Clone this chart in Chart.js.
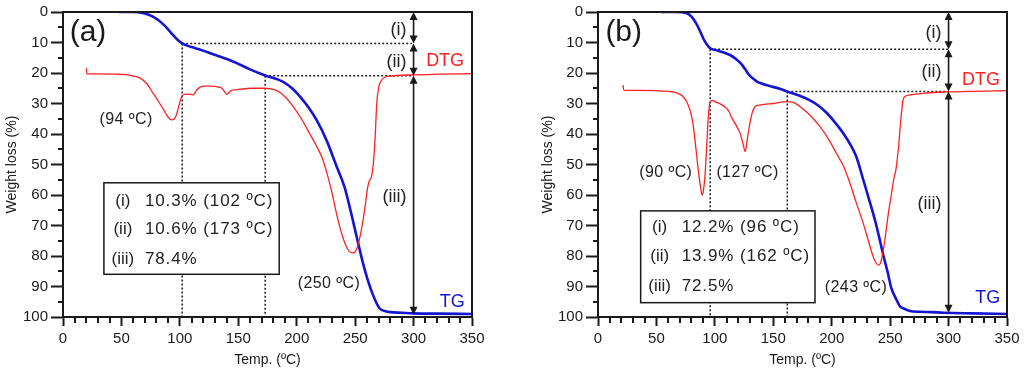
<!DOCTYPE html>
<html>
<head>
<meta charset="utf-8">
<script src="https://cdn.jsdelivr.net/npm/chart.js@4.4.1/dist/chart.umd.min.js"></script>
<style>
  html, body { margin: 0; padding: 0; background: #fff; }
  #wrap { position: relative; width: 1024px; height: 373px; overflow: hidden; }
  canvas { position: absolute; top: 0; }
  #chartA { left: 0; }
  #chartB { left: 512px; }
</style>
</head>
<body>
<div id="wrap">
  <canvas id="chartA" width="512" height="373"></canvas>
  <canvas id="chartB" width="512" height="373"></canvas>
</div>
<script>
// values: temperature (ºC) and weight loss (%)

// panel (a)
const tgTempA = [48, 60, 68, 77, 84, 89, 94, 98, 102, 110, 117, 126, 134, 146, 160, 173, 188, 196, 203, 210, 217, 226, 234, 241, 246, 251, 258, 265, 271, 276, 280, 290, 300, 320, 350];
const tgLossA = [0, 0, 0.3, 1.5, 3.4, 5.3, 7.5, 9.1, 10.3, 11.5, 12.3, 13.5, 14.6, 16.3, 18.8, 20.8, 22.8, 25, 27.8, 31.2, 35.4, 42.5, 50.5, 57.5, 65, 73.2, 84.2, 92.5, 97.2, 98.1, 98.4, 98.6, 98.8, 98.9, 99];
const dtgTempA = [20, 20.5, 30, 45, 54, 60, 66, 72, 77, 82, 86, 90, 93, 95, 97, 99, 101.5, 104, 106, 109, 111.5, 114, 117, 122, 128, 133, 136, 138, 140, 142, 144, 150, 163, 171, 183, 190, 197, 204, 211, 217, 222, 226, 230, 234, 238, 242, 245, 248, 251, 254, 256, 258.5, 260.5, 262, 264, 265.5, 267, 268.5, 270, 272.7, 276, 280, 300, 320, 350];
const dtgLossA = [18.4, 20.3, 20.3, 20.4, 20.5, 21, 21.7, 23.6, 26.6, 29.5, 32, 34.5, 35.4, 35.2, 33.8, 31, 27.8, 27, 26.9, 27, 27.2, 25.8, 24.7, 24.3, 24.3, 24.6, 25, 26, 27, 26.4, 25.8, 25.4, 25, 25, 25.8, 27.8, 31, 35, 39.8, 44, 48, 53, 59, 66, 72, 76.5, 78.5, 79, 78, 74, 70, 63.8, 58, 55.5, 54, 50, 42, 30, 25, 22.3, 21.3, 21, 20.6, 20.4, 20.2];
const stepTempA = [102, 173];
const stepLossA = [10.3, 10.6, 78.4];
const peakTempA = [94, 250];

// panel (b)
const tgTempB = [54, 66, 76, 80, 84, 87, 90, 93, 96, 101, 107, 113, 118, 122, 126, 129, 133, 136, 141, 147, 155, 162, 172, 181, 189, 196, 203, 210, 216, 221, 227, 232, 237, 241, 244, 248, 251, 255, 258, 262, 267, 275, 285, 296, 320, 350];
const tgLossB = [0, 0, 0.4, 1.5, 3.7, 6, 8.6, 10.6, 11.9, 12.5, 13.2, 14.1, 15.4, 16.8, 18.8, 20.5, 21.9, 22.8, 23.6, 24.3, 25.1, 26.1, 27.4, 28.9, 30.8, 33.2, 36.3, 39.8, 43.5, 47.4, 55, 61.5, 68.2, 74.5, 79.5, 85.5, 90.5, 94, 96.3, 97.3, 98, 98.3, 98.4, 98.6, 98.8, 99];
const dtgTempB = [21.5, 22, 35, 50, 62, 68, 73, 76, 78.6, 81, 83, 85, 86.5, 88, 89, 90, 91.5, 93, 94.5, 96, 98, 100, 105, 110, 112, 114, 118, 121.6, 124, 126, 128, 130, 132, 134.5, 138, 142, 150, 161.5, 168, 176, 183, 190, 197, 204, 210, 215, 221, 227, 231, 235.5, 238, 240, 242, 245, 248.5, 251, 253, 255, 257, 259, 261, 263, 267, 280, 300, 320, 350];
const dtgLossB = [24, 25.6, 25.7, 25.8, 26.1, 26.6, 27.8, 29.5, 32, 36, 42, 49, 54, 58, 60, 59, 54, 44, 34, 29.5, 29, 29.4, 30.2, 31.6, 32.5, 34.3, 37, 39.8, 43, 45.8, 41, 36.5, 33, 31, 30.5, 30.3, 30, 29.4, 29.8, 32, 34.5, 37.6, 41.5, 46.3, 50.5, 55.5, 62.5, 69.3, 74.5, 80.2, 82.3, 83, 82, 76, 66, 60, 55, 51.5, 45, 36, 29, 27.6, 27.2, 26.6, 26.2, 26, 25.8];
const stepTempB = [96, 162];
const stepLossB = [12.2, 13.9, 72.5];
const peakTempB = [90, 127, 243];

const stepNames = ['(i)', '(ii)', '(iii)'];
const xTicks = [0, 50, 100, 150, 200, 250, 300, 350];
const yTicks = [0, 10, 20, 30, 40, 50, 60, 70, 80, 90, 100];

const FONT = '"Liberation Sans", Arial, sans-serif';
const RED = '#ff2020';
const BLUE = '#1414d2';
const INK = '#1a1a1a';

function toXY(xs, ys) {
    return xs.map((x, i) => ({ x: x, y: ys[i] }));
}

// frame, minor ticks, guide lines, arrows, labels and the summary box
const tgaNotes = {
    id: 'tgaNotes',
    beforeDatasetsDraw(chart, args, o) {
        const ctx = chart.ctx, sx = chart.scales.x, sy = chart.scales.y;
        let cum = 0;
        ctx.save();
        ctx.strokeStyle = INK;
        ctx.lineWidth = 1.5;
        ctx.setLineDash([2, 2]);
        o.stepTemps.forEach((t, i) => {
            cum += o.losses[i];
            const x = sx.getPixelForValue(t), y = sy.getPixelForValue(cum);
            ctx.beginPath();
            ctx.moveTo(x, y);
            ctx.lineTo(x, chart.chartArea.bottom);
            ctx.moveTo(x, y);
            ctx.lineTo(sx.getPixelForValue(o.arrowAt), y);
            ctx.stroke();
        });
        ctx.restore();
    },
    afterDatasetsDraw(chart, args, o) {
        const ctx = chart.ctx, sx = chart.scales.x, sy = chart.scales.y;
        const ax = sx.getPixelForValue(o.arrowAt);
        ctx.save();

        // double arrows
        let top = 0;
        ctx.fillStyle = INK;
        ctx.strokeStyle = INK;
        ctx.setLineDash([]);
        o.losses.forEach((l, i) => {
            const y0 = sy.getPixelForValue(top), y1 = sy.getPixelForValue(top + l);
            ctx.lineWidth = 1.6;
            ctx.beginPath();
            ctx.moveTo(ax, y0 + 6);
            ctx.lineTo(ax, y1 - 6);
            ctx.stroke();
            ctx.beginPath();
            ctx.moveTo(ax, y0); ctx.lineTo(ax - 4, y0 + 8); ctx.lineTo(ax + 4, y0 + 8); ctx.closePath();
            ctx.moveTo(ax, y1); ctx.lineTo(ax - 4, y1 - 8); ctx.lineTo(ax + 4, y1 - 8); ctx.closePath();
            ctx.fill();
            ctx.font = '18px ' + FONT;
            ctx.textAlign = 'right';
            ctx.textBaseline = 'middle';
            ctx.fillStyle = '#222';
            ctx.fillText(stepNames[i], ax - 7, (y0 + y1) / 2 + 2);
            ctx.fillStyle = INK;
            top += l;
        });

        ctx.textAlign = 'center';
        ctx.textBaseline = 'middle';

        // panel letter
        ctx.font = '30px ' + FONT;
        ctx.fillStyle = INK;
        ctx.fillText(o.letter.text, sx.getPixelForValue(o.letter.x), sy.getPixelForValue(o.letter.y));

        // curve names
        ctx.font = '18px ' + FONT;
        ctx.fillStyle = RED;
        ctx.fillText('DTG', sx.getPixelForValue(o.dtgLabel[0]), sy.getPixelForValue(o.dtgLabel[1]));
        ctx.fillStyle = BLUE;
        ctx.fillText('TG', sx.getPixelForValue(o.tgLabel[0]), sy.getPixelForValue(o.tgLabel[1]));

        // DTG peak temperatures
        ctx.font = '16px ' + FONT;
        ctx.fillStyle = '#222';
        ctx.letterSpacing = '0.4px';
        o.peaks.forEach((t, i) => {
            const p = o.peakPos[i];
            ctx.fillText('(' + t + ' ºC)', sx.getPixelForValue(p[0]), sy.getPixelForValue(p[1]));
        });

        // summary box
        const b = o.box;
        const bx0 = sx.getPixelForValue(b.x0), bx1 = sx.getPixelForValue(b.x1);
        const by0 = sy.getPixelForValue(b.y0), by1 = sy.getPixelForValue(b.y1);
        ctx.fillStyle = '#fff';
        ctx.fillRect(bx0, by0, bx1 - bx0, by1 - by0);
        ctx.strokeStyle = INK;
        ctx.lineWidth = 1.5;
        ctx.strokeRect(bx0, by0, bx1 - bx0, by1 - by0);
        ctx.font = '17px ' + FONT;
        ctx.fillStyle = '#222';
        o.losses.forEach((l, i) => {
            const y = sy.getPixelForValue(b.rows[i]);
            ctx.letterSpacing = '0px';
            ctx.textAlign = 'center';
            ctx.fillText(stepNames[i], bx0 + 19, y);
            ctx.letterSpacing = '0.9px';
            ctx.textAlign = 'left';
            let s = l.toFixed(1) + '%';
            if (i < o.stepTemps.length) s += ' (' + o.stepTemps[i] + ' ºC)';
            ctx.fillText(s, bx0 + 41, y);
        });
        ctx.restore();
    },
    afterDraw(chart) {
        const ctx = chart.ctx, sx = chart.scales.x, sy = chart.scales.y;
        const a = chart.chartArea;
        ctx.save();
        ctx.strokeStyle = INK;
        ctx.lineWidth = 2;
        ctx.beginPath();
        ctx.moveTo(a.left, a.top);
        ctx.lineTo(a.right, a.top);
        ctx.lineTo(a.right, a.bottom);
        ctx.stroke();
        // minor ticks
        ctx.beginPath();
        for (let v = 5; v < 100; v += 10) {
            const y = Math.round(sy.getPixelForValue(v));
            ctx.moveTo(a.left, y);
            ctx.lineTo(a.left - 5, y);
        }
        for (let v = 10; v < 350; v += 10) {
            if (v % 50 === 0) continue;
            const x = Math.round(sx.getPixelForValue(v));
            ctx.moveTo(x, a.bottom);
            ctx.lineTo(x, a.bottom + 6);
        }
        ctx.stroke();
        ctx.restore();
    }
};

function makeChart(id, p) {
    return new Chart(document.getElementById(id), {
        type: 'line',
        data: {
            datasets: [{
                label: 'DTG',
                data: toXY(p.dtgT, p.dtgW),
                borderColor: RED,
                borderWidth: 1.3,
                pointRadius: 0,
                cubicInterpolationMode: 'monotone'
            }, {
                label: 'TG',
                data: toXY(p.tgT, p.tgW),
                borderColor: BLUE,
                borderWidth: 2.6,
                pointRadius: 0,
                cubicInterpolationMode: 'monotone'
            }]
        },
        options: {
            responsive: false,
            animation: false,
            devicePixelRatio: 1,
            layout: { padding: { left: p.padLeft, right: p.padRight, top: 12, bottom: 0 } },
            plugins: {
                legend: { display: false },
                tooltip: { enabled: false },
                tgaNotes: p.notes
            },
            scales: {
                x: {
                    type: 'linear',
                    min: 0,
                    max: 350,
                    afterBuildTicks: s => { s.ticks = xTicks.map(v => ({ value: v })); },
                    afterFit: s => { s.height = 56; },
                    border: { display: true, color: INK, width: 2 },
                    grid: { drawOnChartArea: false, drawTicks: true, tickLength: 9, tickWidth: 2, tickColor: INK },
                    ticks: { color: INK, font: { family: FONT, size: 15 }, padding: 4, maxRotation: 0, autoSkip: false },
                    title: { display: true, text: 'Temp. (ºC)', color: INK, font: { family: FONT, size: 14 }, padding: { top: 4, bottom: 4 } }
                },
                y: {
                    type: 'linear',
                    reverse: true,
                    min: 0,
                    max: 100,
                    afterBuildTicks: s => { s.ticks = yTicks.map(v => ({ value: v })); },
                    afterFit: s => { s.width = p.yWidth; },
                    border: { display: true, color: INK, width: 2 },
                    grid: { drawOnChartArea: false, drawTicks: true, tickLength: 12, tickWidth: 2, tickColor: INK },
                    ticks: { color: INK, font: { family: FONT, size: 15 }, padding: 3, autoSkip: false },
                    title: { display: true, text: 'Weight loss (%)', color: INK, font: { family: FONT, size: 14 }, padding: { top: 4, bottom: 4 } }
                }
            }
        },
        plugins: [tgaNotes]
    });
}

makeChart('chartA', {
    tgT: tgTempA, tgW: tgLossA, dtgT: dtgTempA, dtgW: dtgLossA,
    padLeft: 0, padRight: 40, yWidth: 63,
    notes: {
        stepTemps: stepTempA, losses: stepLossA, peaks: peakTempA, arrowAt: 300,
        letter: { text: '(a)', x: 21.4, y: 6.9 },
        dtgLabel: [327, 16], tgLabel: [333, 95],
        peakPos: [[54, 35.4], [227.6, 88.9]],
        box: { x0: 35, x1: 185, y0: 56, y1: 86, rows: [62, 71.1, 81] }
    }
});

makeChart('chartB', {
    tgT: tgTempB, tgW: tgLossB, dtgT: dtgTempB, dtgW: dtgLossB,
    padLeft: 24, padRight: 17, yWidth: 62,
    notes: {
        stepTemps: stepTempB, losses: stepLossB, peaks: peakTempB, arrowAt: 300,
        letter: { text: '(b)', x: 22, y: 6.9 },
        dtgLabel: [327.7, 22.3], tgLabel: [333.5, 93.8],
        peakPos: [[58, 52.8], [128, 52.8], [220.8, 90.5]],
        box: { x0: 36.5, x1: 185.7, y0: 65.2, y1: 95.3, rows: [70.5, 80.2, 90] }
    }
});
</script>
</body>
</html>
